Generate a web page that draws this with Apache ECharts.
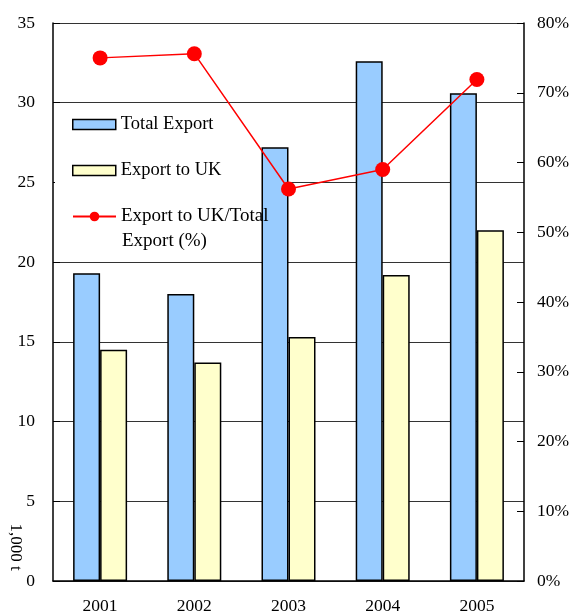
<!DOCTYPE html>
<html>
<head>
<meta charset="utf-8">
<script src="https://cdn.jsdelivr.net/npm/echarts@6/dist/echarts.min.js"></script>
<style>
  html, body { margin: 0; padding: 0; background: #fff; }
  #chart { width: 573px; height: 615px; }
</style>
</head>
<body>
<div id="chart"></div>
<script>
const years = ['2001', '2002', '2003', '2004', '2005']
const totalExport = [19.3, 18.0, 27.2, 32.6, 30.6]
const exportToUK = [14.5, 13.7, 15.3, 19.2, 22.0]
const ukShare = [75.0, 75.6, 56.2, 59.0, 71.9]   // %

const font = 'Liberation Serif'

const chart = echarts.init(document.getElementById('chart'))

const option = {
    backgroundColor: '#fff',
    textStyle: { fontFamily: font },
    grid: { left: 53, right: 49, top: 23, bottom: 33 },
    legend: [
        {
            // white box behind the legend hides the 25 gridline, bars stay on top
            z: 1,
            orient: 'vertical',
            left: 55,
            top: 108,
            padding: [4, 45, 8, 17],
            backgroundColor: '#fff',
            icon: 'rect',
            itemWidth: 43,
            itemHeight: 10,
            itemGap: 21,
            data: ['Total Export', 'Export to UK'],
            itemStyle: { borderColor: '#000', borderWidth: 1.5 },
            textStyle: { fontFamily: font, fontSize: 18.5, color: '#000', lineHeight: 25 }
        },
        {
            orient: 'vertical',
            left: 72,
            top: 204,
            padding: 0,
            itemWidth: 43,
            itemHeight: 12,
            data: ['Export to UK/Total Export (%)'],
            formatter: () => 'Export to UK/Total',
            textStyle: { fontFamily: font, fontSize: 19, color: '#000', lineHeight: 25 }
        }
    ],
    graphic: [
        {
            type: 'text',
            left: 122,
            top: 232,
            z: 5,
            style: { text: 'Export (%)', font: '19px "Liberation Serif"', fill: '#000' }
        },
        {
            type: 'text',
            x: 15,
            y: 547,
            rotation: -Math.PI / 2,
            style: {
                text: '1,000 t',
                font: '17px "Liberation Serif"',
                fill: '#000',
                align: 'center',
                verticalAlign: 'middle'
            }
        }
    ],
    xAxis: {
        type: 'category',
        data: years,
        axisLine: { lineStyle: { color: '#000', width: 1.5 } },
        axisTick: { inside: true, length: 5, lineStyle: { color: '#000' } },
        axisLabel: { fontFamily: font, fontSize: 17.5, color: '#000', margin: 16 }
    },
    yAxis: [
        {
            type: 'value',
            min: 0,
            max: 35,
            interval: 5,
            axisLine: { show: true, lineStyle: { color: '#000', width: 1.5 } },
            axisTick: { show: true, inside: true, length: 7, lineStyle: { color: '#000' } },
            axisLabel: { fontFamily: font, fontSize: 17.5, color: '#000', margin: 18 },
            splitLine: { show: true, lineStyle: { color: '#333', width: 1 } }
        },
        {
            type: 'value',
            min: 0,
            max: 80,
            interval: 10,
            axisLine: { show: true, lineStyle: { color: '#000', width: 1.5 } },
            axisTick: { show: true, inside: true, length: 7, lineStyle: { color: '#000' } },
            axisLabel: { fontFamily: font, fontSize: 17.5, color: '#000', margin: 13, formatter: '{value}%' },
            splitLine: { show: false }
        }
    ],
    series: [
        {
            name: 'Total Export',
            type: 'bar',
            barWidth: 27,
            barGap: '0%',
            data: totalExport,
            itemStyle: { color: '#99CCFF', borderColor: '#000', borderWidth: 1.5 }
        },
        {
            name: 'Export to UK',
            type: 'bar',
            barWidth: 27,
            data: exportToUK,
            itemStyle: { color: '#FFFFCC', borderColor: '#000', borderWidth: 1.5 }
        },
        {
            name: 'Export to UK/Total Export (%)',
            type: 'line',
            yAxisIndex: 1,
            z: 10,
            symbol: 'circle',
            symbolSize: 15,
            data: ukShare,
            lineStyle: { color: '#FF0000', width: 1.5 },
            itemStyle: { color: '#FF0000' }
        }
    ]
}

chart.setOption(option)
</script>
</body>
</html>
